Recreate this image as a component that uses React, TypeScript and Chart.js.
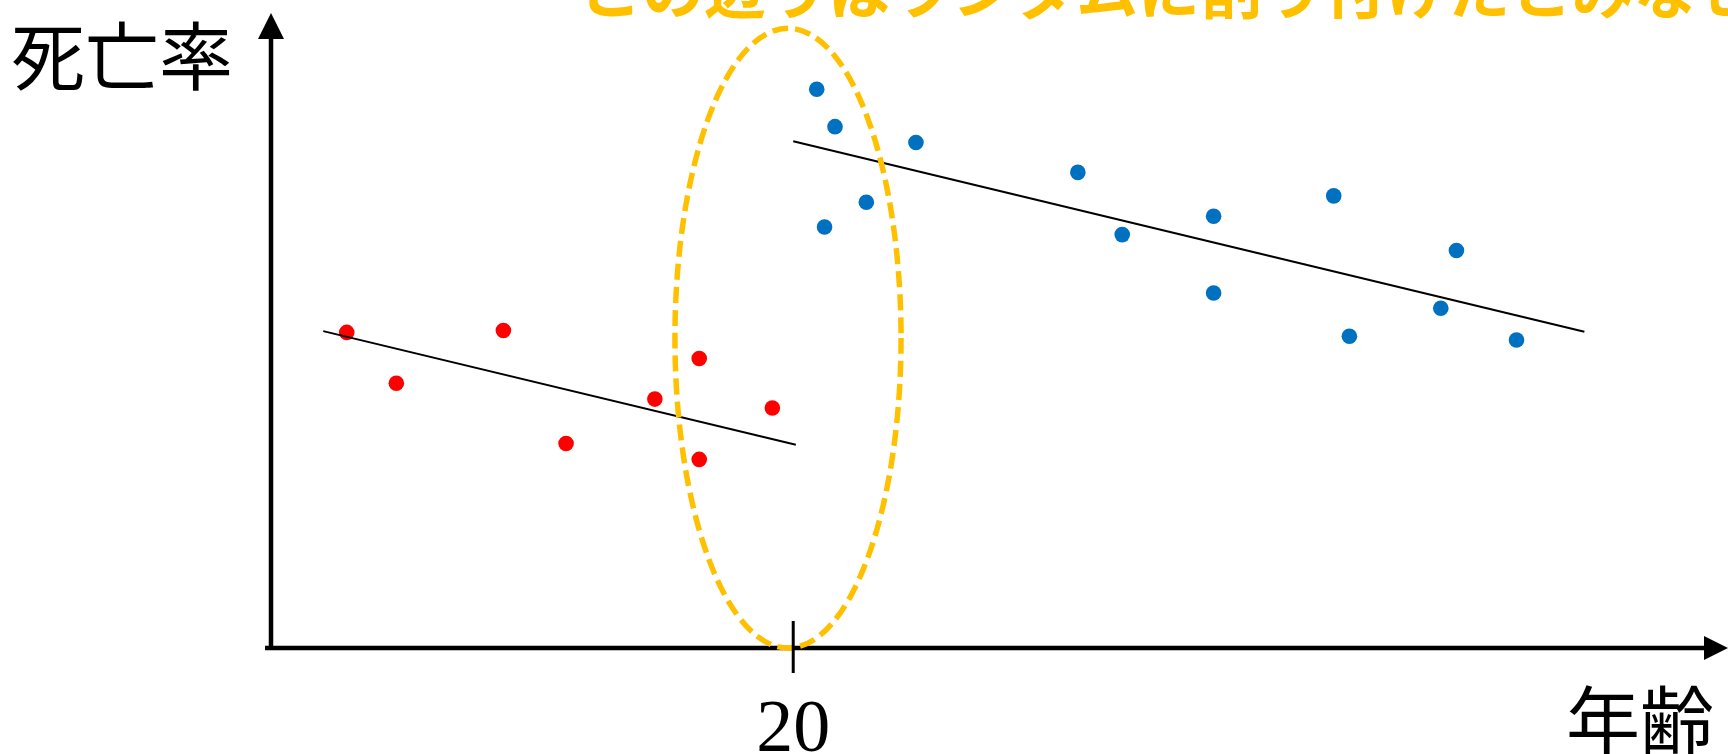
import React, { useEffect, useRef } from "react";
import { Chart, registerables } from "chart.js";

Chart.register(...registerables);

// ---- data ----
const redAges = [2.9, 4.8, 8.9, 11.3, 14.7, 16.4, 16.4, 19.2];
const redRates = [49.7, 41.7, 50.0, 32.2, 39.2, 45.6, 29.7, 37.8];
const blueAges = [20.9, 21.2, 21.6, 22.8, 24.7, 30.9, 32.6, 36.1, 36.1, 40.7, 41.3, 44.8, 45.4, 47.7];
const blueRates = [88.0, 66.3, 82.1, 70.2, 79.6, 74.9, 65.1, 68.0, 55.9, 71.2, 49.1, 53.5, 62.6, 48.5];
const redFitAges = [2.0, 20.1];
const redFitRates = [49.9, 32.0];
const blueFitAges = [20.0, 50.3];
const blueFitRates = [79.8, 49.8];
const cutoffTicks = [20];
const cutoffTickLabels = ["20"];
const yTitle = "死亡率";
const xTitle = "年齢";
const noteText = "この辺りはランダムに割り付けたとみなせる";
// ellipse around the cutoff, in data units
const ellipseCenterAge = 19.8;
const ellipseCenterRate = 48.8;
const ellipseHalfAge = 4.33;
const ellipseHalfRate = 48.8;

const X_MIN = 0;
const X_MAX = 55.8;
const Y_MIN = 0;
const Y_MAX = 100;

const toPoints = (xs: number[], ys: number[]) => xs.map((x, i) => ({ x, y: ys[i] }));

const YELLOW = "#FFC000";

const decorPlugin = {
  id: "decor",
  beforeDatasetsDraw(chart: any) {
    const { ctx, chartArea } = chart;
    const { left, right, top, bottom } = chartArea;
    ctx.save();
    ctx.strokeStyle = "#000";
    ctx.fillStyle = "#000";
    ctx.lineWidth = 4.5;
    // y axis
    ctx.beginPath();
    ctx.moveTo(left, bottom + 2);
    ctx.lineTo(left, top + 24);
    ctx.stroke();
    ctx.beginPath();
    ctx.moveTo(left, top);
    ctx.lineTo(left - 13, top + 26);
    ctx.lineTo(left + 13, top + 26);
    ctx.closePath();
    ctx.fill();
    // x axis
    ctx.beginPath();
    ctx.moveTo(left - 6, bottom);
    ctx.lineTo(right - 22, bottom);
    ctx.stroke();
    ctx.beginPath();
    ctx.moveTo(right, bottom);
    ctx.lineTo(right - 24, bottom - 12);
    ctx.lineTo(right - 24, bottom + 12);
    ctx.closePath();
    ctx.fill();
    ctx.restore();
  },
  afterDatasetsDraw(chart: any) {
    const { ctx, chartArea, scales } = chart;
    const { bottom } = chartArea;
    const xs = scales.x;
    const ys = scales.y;
    ctx.save();
    // dashed ellipse
    const cx = xs.getPixelForValue(ellipseCenterAge);
    const cy = ys.getPixelForValue(ellipseCenterRate);
    const rx = Math.abs(xs.getPixelForValue(ellipseCenterAge + ellipseHalfAge) - cx);
    const ry = Math.abs(ys.getPixelForValue(ellipseCenterRate + ellipseHalfRate) - cy);
    ctx.strokeStyle = YELLOW;
    ctx.lineWidth = 5.5;
    ctx.setLineDash([16, 7]);
    ctx.beginPath();
    ctx.ellipse(cx, cy, rx, ry, 0, 0, Math.PI * 2);
    ctx.stroke();
    ctx.setLineDash([]);
    // cutoff tick + label
    ctx.strokeStyle = "#000";
    ctx.fillStyle = "#000";
    ctx.lineWidth = 3;
    cutoffTicks.forEach((t, i) => {
      const px = xs.getPixelForValue(t);
      ctx.beginPath();
      ctx.moveTo(px, bottom - 27);
      ctx.lineTo(px, bottom + 25);
      ctx.stroke();
      ctx.font = '74px "Liberation Serif", "DejaVu Serif", serif';
      ctx.textAlign = "center";
      ctx.textBaseline = "alphabetic";
      ctx.fillText(cutoffTickLabels[i], px, bottom + 103);
    });
    // axis titles
    ctx.font = '74px "Noto Sans CJK JP", sans-serif';
    ctx.textAlign = "center";
    ctx.textBaseline = "middle";
    ctx.fillText(yTitle, 122, 56);
    ctx.fillText(xTitle, 1640, 720);
    // note text (cut off at the top)
    ctx.fillStyle = YELLOW;
    ctx.font = 'bold 62px "Noto Sans CJK JP", sans-serif';
    ctx.textAlign = "left";
    ctx.textBaseline = "alphabetic";
    ctx.fillText(noteText, 580, 14);
    ctx.restore();
  },
};

export default function App() {
  const canvasRef = useRef<HTMLCanvasElement | null>(null);

  useEffect(() => {
    document.body.style.margin = "0";
    const canvas = canvasRef.current;
    if (!canvas) return;
    const chart = new Chart(canvas, {
      type: "scatter",
      data: {
        datasets: [
          {
            label: "fitRed",
            type: "line",
            data: toPoints(redFitAges, redFitRates),
            borderColor: "#000",
            borderWidth: 2,
            pointRadius: 0,
            fill: false,
          } as any,
          {
            label: "fitBlue",
            type: "line",
            data: toPoints(blueFitAges, blueFitRates),
            borderColor: "#000",
            borderWidth: 2,
            pointRadius: 0,
            fill: false,
          } as any,
          {
            label: "red",
            data: toPoints(redAges, redRates),
            backgroundColor: "#FF0000",
            borderColor: "#FF0000",
            borderWidth: 0,
            pointRadius: 7.8,
          },
          {
            label: "blue",
            data: toPoints(blueAges, blueRates),
            backgroundColor: "#0070C0",
            borderColor: "#0070C0",
            borderWidth: 0,
            pointRadius: 7.8,
          },
        ],
      },
      options: {
        animation: false,
        responsive: false,
        devicePixelRatio: 1,
        layout: { autoPadding: false, padding: { left: 271, right: 0, top: 13, bottom: 106 } },
        plugins: { legend: { display: false }, tooltip: { enabled: false } },
        scales: {
          x: { type: "linear", min: X_MIN, max: X_MAX, display: false },
          y: { type: "linear", min: Y_MIN, max: Y_MAX, display: false },
        },
      },
      plugins: [decorPlugin],
    });
    return () => chart.destroy();
  }, []);

  return (
    <div style={{ position: "fixed", left: 0, top: 0, width: 1728, height: 754, background: "#fff" }}>
      <canvas ref={canvasRef} width={1728} height={754} style={{ width: 1728, height: 754 }} />
    </div>
  );
}
